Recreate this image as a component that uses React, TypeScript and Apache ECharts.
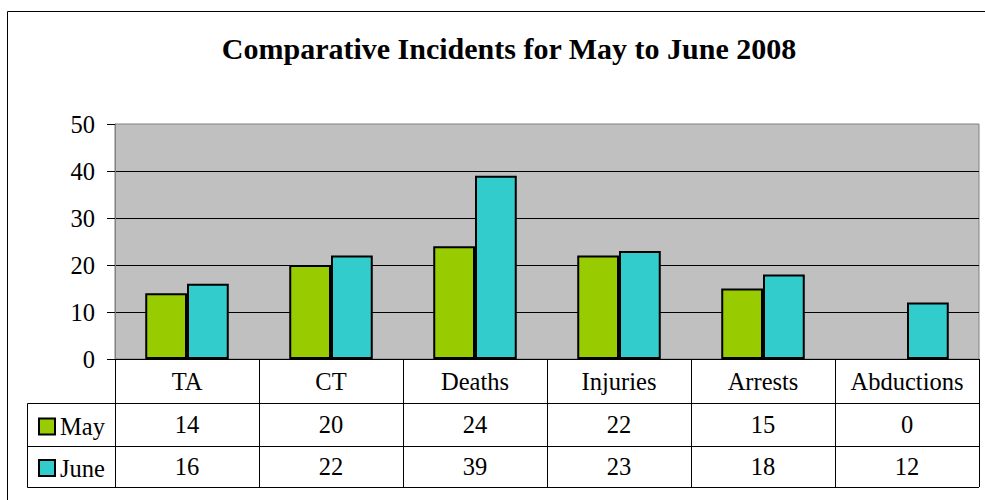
import React, { useEffect, useRef } from "react";
import * as echarts from "echarts";

const categories = ["TA", "CT", "Deaths", "Injuries", "Arrests", "Abductions"];
const mayValues = [14, 20, 24, 22, 15, 0];
const juneValues = [16, 22, 39, 23, 18, 12];
const seriesNames = ["May", "June"];
const titleText = "Comparative Incidents for May to June 2008";

const FONT = "Liberation Serif";
const FS = 24.5;

export default function App() {
  const ref = useRef<HTMLDivElement>(null);
  useEffect(() => {
    if (!ref.current) return;
    const chart = echarts.init(ref.current, undefined, { renderer: "svg" });
    const tableAxis = (offset: number, tickLen: number, margin: number, values: number[] | null) => ({
      type: "category",
      gridIndex: 0,
      position: "bottom",
      offset,
      data: categories,
      axisLine: { show: true, lineStyle: { color: "#000", width: 1 } },
      axisTick: { show: true, length: tickLen, lineStyle: { color: "#000", width: 1 } },
      axisLabel: {
        interval: 0,
        margin,
        fontSize: FS,
        fontFamily: FONT,
        color: "#000",
        formatter: values ? (_v: string, i: number) => String(values[i]) : undefined,
      },
      splitLine: { show: false },
    });
    const barData = (vals: number[]) =>
      vals.map((v) => (v === 0 ? { value: v, itemStyle: { borderWidth: 0 } } : v));
    const legendFor = (name: string, top: number) => ({
      orient: "vertical",
      left: 33,
      top,
      itemWidth: 16,
      itemHeight: 16,
      icon: "rect",
      data: [name],
      itemStyle: { borderColor: "#000", borderWidth: 2 },
      textStyle: { fontSize: FS, fontFamily: FONT, color: "#000" },
    });
    chart.setOption({
      animation: false,
      textStyle: { fontFamily: FONT },
      grid: {
        left: 115,
        top: 124,
        width: 864,
        height: 235,
        show: true,
        backgroundColor: "#C0C0C0",
        borderColor: "#808080",
        borderWidth: 1,
      },
      legend: [legendFor(seriesNames[0], 409), legendFor(seriesNames[1], 450.5)],
      xAxis: [
        tableAxis(0, 44, 10, null),
        tableAxis(44, 43, 9, mayValues),
        tableAxis(87, 41, 8, juneValues),
      ],
      yAxis: {
        type: "value",
        min: 0,
        max: 50,
        interval: 10,
        axisLine: { show: true, lineStyle: { color: "#808080", width: 1 } },
        axisTick: { show: true, length: 8, lineStyle: { color: "#000" } },
        axisLabel: { margin: 20, fontSize: FS, fontFamily: FONT, color: "#000" },
        splitLine: { show: true, showMaxLine: false, lineStyle: { color: "#000", width: 1 } },
      },
      series: [
        {
          name: seriesNames[0],
          type: "bar",
          data: barData(mayValues),
          barGap: "0%",
          barCategoryGap: "42%",
          itemStyle: { color: "#99CC00", borderColor: "#000", borderWidth: 2 },
        },
        {
          name: seriesNames[1],
          type: "bar",
          data: barData(juneValues),
          barGap: "0%",
          barCategoryGap: "42%",
          itemStyle: { color: "#33CCCC", borderColor: "#000", borderWidth: 2 },
        },
      ],
      graphic: [
        {
          type: "rect",
          shape: { x: 7.5, y: 11.5, width: 1100, height: 600 },
          style: { fill: "none", stroke: "#000", lineWidth: 1 },
          silent: true,
        },
        {
          type: "text",
          x: 509,
          y: 48,
          style: {
            text: titleText,
            textAlign: "center",
            textVerticalAlign: "middle",
            fontSize: 30,
            fontWeight: "bold",
            fontFamily: FONT,
            fill: "#000",
          },
        },
        {
          type: "polyline",
          shape: { points: [[115, 403.5], [27.5, 403.5], [27.5, 487.5], [979, 487.5]] },
          style: { stroke: "#000", lineWidth: 1, fill: "none" },
        },
        {
          type: "line",
          shape: { x1: 27.5, y1: 446.5, x2: 115, y2: 446.5 },
          style: { stroke: "#000", lineWidth: 1 },
        },
      ],
    });
    return () => chart.dispose();
  }, []);
  return (
    <div
      ref={ref}
      style={{ position: "fixed", left: 0, top: 0, width: 985, height: 500, background: "#fff" }}
    />
  );
}
